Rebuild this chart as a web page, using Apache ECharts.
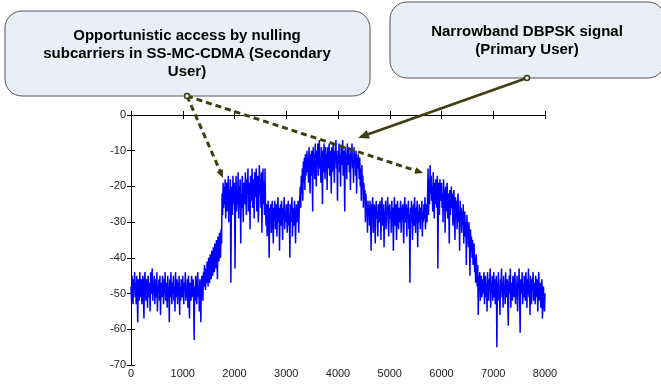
<!DOCTYPE html>
<html>
<head>
<meta charset="utf-8">
<script src="https://cdn.jsdelivr.net/npm/echarts@6/dist/echarts.min.js"></script>
<style>html,body{margin:0;padding:0;background:#fff}#c{width:661px;height:384px}</style>
</head>
<body>
<div id="c"></div>
<script>
// Frequency axis: samples every 10 units from 0 to 8000
var xStep = 10;
var xTicks = [0, 1000, 2000, 3000, 4000, 5000, 6000, 7000, 8000];
var yTicks = [0, -10, -20, -30, -40, -50, -60, -70];
// Power spectral density (dB), one row per 200 units
var psd = [
-48,-52,-45,-50,-53,-46,-49,-44,-51,-47,-53,-45,-50,-58,-46,-49,-52,-44,-48,-51,
-46,-53,-49,-45,-51,-57,-47,-44,-50,-52,-46,-48,-54,-45,-49,-51,-47,-55,-44,-50,
-48,-43,-52,-47,-50,-45,-53,-49,-46,-51,-44,-55,-48,-50,-46,-52,-45,-56,-49,-47,
-51,-45,-48,-53,-46,-50,-44,-52,-49,-47,-54,-45,-50,-48,-58,-46,-51,-44,-49,-53,
-47,-50,-45,-52,-48,-55,-44,-49,-51,-46,-53,-47,-50,-45,-56,-48,-52,-46,-49,-51,
-45,-50,-53,-47,-49,-44,-52,-48,-51,-46,-54,-45,-49,-57,-47,-50,-52,-45,-48,-51,
-46,-50,-63,-48,-52,-45,-49,-53,-47,-44,-51,-48,-55,-46,-50,-58,-47,-45,-49,-52,
-44,-48,-42,-46,-49,-43,-47,-41,-45,-48,-40,-44,-47,-39,-43,-46,-38,-42,-45,-37,
-41,-44,-36,-40,-43,-35,-39,-46,-34,-38,-41,-33,-37,-40,-32,-36,-22,-28,-19,-26,
-20,-25,-18,-29,-22,-19,-27,-24,-17,-30,-21,-26,-18,-47,-23,-20,-28,-17,-25,-22,
-19,-43,-24,-17,-27,-21,-25,-16,-29,-20,-23,-18,-36,-22,-26,-17,-24,-30,-19,-21,
-25,-16,-23,-28,-18,-21,-15,-27,-22,-19,-32,-17,-24,-20,-15,-26,-22,-18,-29,-16,
-23,-19,-15,-27,-21,-17,-30,-24,-14,-22,-18,-26,-16,-33,-20,-15,-25,-19,-28,-15,
-27,-31,-25,-34,-28,-24,-30,-40,-26,-29,-25,-33,-27,-24,-31,-36,-26,-28,-24,-32,
-29,-25,-34,-27,-23,-30,-26,-38,-28,-25,-31,-24,-29,-35,-26,-28,-23,-32,-27,-30,
-25,-29,-33,-26,-24,-31,-28,-40,-25,-30,-27,-23,-34,-28,-26,-31,-24,-29,-36,-27,
-25,-30,-28,-24,-33,-27,-24,-20,-26,-17,-22,-15,-24,-13,-19,-12,-21,-11,-17,-14,
-10,-16,-12,-19,-9,-14,-22,-11,-17,-10,-13,-27,-9,-15,-11,-18,-8,-13,-20,-10,
-14,-8,-17,-11,-7,-15,-12,-19,-9,-13,-25,-10,-16,-8,-12,-18,-9,-14,-11,-21,
-9,-15,-12,-8,-17,-10,-13,-22,-9,-16,-11,-8,-14,-19,-10,-12,-7,-15,-11,-24,
-10,-13,-8,-16,-11,-20,-9,-14,-12,-7,-17,-10,-13,-27,-9,-15,-11,-18,-8,-12,
-14,-9,-16,-11,-21,-10,-13,-8,-15,-12,-19,-9,-14,-11,-17,-10,-22,-12,-15,-11,
-13,-18,-12,-20,-15,-24,-14,-19,-17,-26,-19,-23,-21,-30,-22,-27,-25,-33,-24,-28,
-26,-31,-24,-29,-38,-25,-28,-23,-33,-27,-25,-30,-36,-26,-24,-29,-27,-34,-25,-28,
-30,-24,-27,-35,-26,-23,-31,-28,-25,-37,-27,-29,-24,-32,-26,-28,-23,-30,-34,-26,
-25,-29,-27,-33,-24,-30,-26,-38,-28,-23,-31,-27,-25,-35,-29,-24,-28,-32,-26,-30,
-27,-24,-33,-26,-29,-25,-31,-36,-27,-23,-30,-28,-25,-34,-26,-29,-24,-32,-28,-47,
-26,-30,-24,-28,-35,-27,-25,-31,-23,-29,-33,-26,-28,-24,-37,-27,-30,-25,-29,-32,
-26,-28,-24,-34,-27,-30,-25,-29,-23,-32,-27,-25,-30,-24,-15,-28,-18,-25,-14,-22,
-17,-24,-20,-27,-16,-22,-29,-19,-25,-18,-21,-26,-17,-43,-23,-19,-28,-18,-24,-21,
-19,-26,-22,-30,-18,-24,-21,-33,-20,-27,-23,-19,-29,-22,-25,-36,-21,-28,-24,-20,
-26,-22,-31,-25,-21,-28,-35,-23,-27,-24,-32,-26,-22,-30,-27,-38,-24,-29,-26,-33,
-27,-31,-25,-36,-29,-27,-34,-30,-42,-28,-33,-31,-37,-30,-35,-45,-32,-38,-34,-40,
-35,-42,-38,-36,-44,-40,-47,-39,-43,-48,-42,-56,-45,-49,-44,-52,-47,-45,-51,-48,
-46,-50,-44,-53,-48,-45,-51,-47,-55,-44,-49,-52,-46,-48,-43,-54,-47,-50,-45,-52,
-48,-44,-51,-46,-53,-49,-45,-65,-47,-50,-44,-52,-48,-56,-46,-49,-43,-51,-47,-54,
-45,-50,-48,-53,-44,-51,-47,-46,-52,-59,-48,-45,-50,-43,-54,-47,-49,-52,-45,-48,
-51,-46,-44,-53,-48,-50,-45,-55,-47,-49,-43,-52,-61,-46,-50,-48,-44,-53,-47,-51,
-45,-49,-52,-44,-48,-54,-46,-50,-43,-51,-47,-56,-45,-49,-53,-46,-48,-44,-52,-50,
-47,-53,-45,-49,-51,-46,-55,-48,-44,-52,-50,-47,-54,-49,-46,-57,-51,-48,-53,-55,
-50
];
var boxLeftLines = ["Opportunistic access by nulling", "subcarriers in SS-MC-CDMA (Secondary", "User)"];
var boxRightLines = ["Narrowband DBPSK signal", "(Primary User)"];

var data = psd.map(function (v, i) { return [i * xStep, v]; });
var chart = echarts.init(document.getElementById('c'));
var font = 'Liberation Sans, Arial, sans-serif';
var axisCommon = {
  axisLine: { lineStyle: { color: '#000', width: 1 } },
  axisTick: { inside: true, length: 4, lineStyle: { color: '#000' } },
  splitLine: { show: false }
};
var olive = '#3e3e10';
var boxFill = '#e9eef8';

function arrowHead(x1, y1, x2, y2, len, w) {
  var a = Math.atan2(y2 - y1, x2 - x1);
  var bx = x2 - len * Math.cos(a), by = y2 - len * Math.sin(a);
  var px = -Math.sin(a) * w, py = Math.cos(a) * w;
  return { type: 'polygon', z: 100, shape: { points: [[x2, y2], [bx + px, by + py], [bx - px, by - py]] }, style: { fill: olive } };
}

var graphics = [
  { type: 'rect', z: 90, shape: { x: 5, y: 11, width: 365, height: 85, r: 17 }, style: { fill: boxFill, stroke: '#555', lineWidth: 1 } },
  { type: 'rect', z: 90, shape: { x: 390, y: 2, width: 275, height: 76, r: 17 }, style: { fill: boxFill, stroke: '#555', lineWidth: 1 } },
  { type: 'line', z: 100, shape: { x1: 187, y1: 96, x2: 221, y2: 173 }, style: { stroke: olive, lineWidth: 3, lineDash: [6, 4] } },
  { type: 'line', z: 100, shape: { x1: 187, y1: 96, x2: 417, y2: 171 }, style: { stroke: olive, lineWidth: 3, lineDash: [6, 4] } },
  arrowHead(187, 96, 223, 178, 8, 3.5),
  arrowHead(187, 96, 423, 173, 8, 3.5),
  { type: 'circle', z: 101, shape: { cx: 187, cy: 96, r: 2.5 }, style: { fill: boxFill, stroke: olive, lineWidth: 1.5 } },
  { type: 'line', z: 100, shape: { x1: 527, y1: 78, x2: 366, y2: 135 }, style: { stroke: olive, lineWidth: 2.5 } },
  arrowHead(527, 78, 358, 138, 11, 4.5),
  { type: 'circle', z: 101, shape: { cx: 527, cy: 78, r: 2.5 }, style: { fill: boxFill, stroke: olive, lineWidth: 1.5 } }
];
boxLeftLines.forEach(function (t, i) {
  graphics.push({ type: 'text', z: 95, x: 187, y: 36 + i * 18, style: { text: t, font: 'bold 15px ' + font, fill: '#000', textAlign: 'center', textVerticalAlign: 'middle' } });
});
boxRightLines.forEach(function (t, i) {
  graphics.push({ type: 'text', z: 95, x: 527, y: 32 + i * 18, style: { text: t, font: 'bold 15px ' + font, fill: '#000', textAlign: 'center', textVerticalAlign: 'middle' } });
});

chart.setOption({
  animation: false,
  backgroundColor: '#fff',
  grid: { left: 131, right: 116, top: 115, bottom: 19, show: false },
  xAxis: [
    Object.assign({ type: 'value', min: xTicks[0], max: xTicks[xTicks.length - 1], interval: 1000, position: 'bottom',
      axisLabel: { color: '#222', fontSize: 11, fontFamily: font, margin: 3, formatter: function (v) { return String(v); } } }, axisCommon),
    Object.assign({ type: 'value', min: xTicks[0], max: xTicks[xTicks.length - 1], interval: 1000, position: 'top',
      axisLabel: { show: false } }, axisCommon)
  ],
  yAxis: [
    Object.assign({ type: 'value', min: yTicks[yTicks.length - 1], max: yTicks[0], interval: 10, position: 'left',
      axisLabel: { color: '#222', fontSize: 11, fontFamily: font, margin: 5 } }, axisCommon),
    Object.assign({ type: 'value', min: yTicks[yTicks.length - 1], max: yTicks[0], interval: 10, position: 'right',
      axisLabel: { show: false } }, axisCommon)
  ],
  series: [{
    type: 'line', data: data, showSymbol: false, symbol: 'none', sampling: null,
    lineStyle: { color: '#0000ff', width: 1.5 }, z: 2
  }],
  graphic: graphics
});
</script>
</body>
</html>
